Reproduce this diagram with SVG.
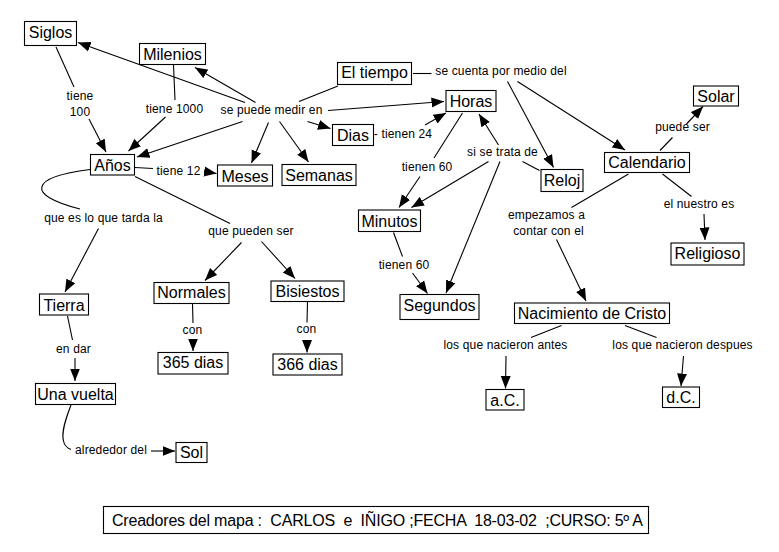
<svg xmlns="http://www.w3.org/2000/svg" width="779" height="552" viewBox="0 0 779 552">
<style>
.box{fill:#fff;stroke:#000;stroke-width:1.1}
.nt{font-family:"Liberation Sans",Arial,sans-serif;font-size:16px;fill:#000;text-anchor:middle}
.lt{font-family:"Liberation Sans",Arial,sans-serif;font-size:12px;letter-spacing:0.15px;fill:#000;text-anchor:middle}
.ft{font-family:"Liberation Sans",Arial,sans-serif;font-size:16px;fill:#000;white-space:pre}
.c{fill:none;stroke:#000;stroke-width:1.1}
.a{fill:none;stroke:#000;stroke-width:1.1;marker-end:url(#ah)}
</style>
<defs>
<marker id="ah" markerUnits="userSpaceOnUse" markerWidth="13" markerHeight="11" viewBox="0 0 13 11" refX="12.5" refY="5.5" orient="auto">
<path d="M0,0.5 L12.5,5.5 L0,10.5 z" fill="#000"/>
</marker>
</defs>
<rect width="779" height="552" fill="#fff"/>

<g id="connectors">
<!-- Siglos / tiene 100 -->
<line class="c" x1="56" y1="47" x2="74" y2="87"/>
<line class="a" x1="89" y1="119" x2="106" y2="152"/>
<!-- Milenios / tiene 1000 -->
<line class="c" x1="173.5" y1="65" x2="175" y2="100"/>
<line class="a" x1="165.5" y1="117" x2="128.5" y2="151"/>
<!-- El tiempo / se puede medir en -->
<line class="c" x1="338" y1="86" x2="299" y2="101.5"/>
<line class="a" x1="245" y1="102.5" x2="78" y2="42.5"/>
<line class="a" x1="255.5" y1="102.5" x2="195" y2="67.5"/>
<line class="a" x1="242.5" y1="121.5" x2="137" y2="157"/>
<line class="a" x1="268.5" y1="122.5" x2="251.5" y2="163"/>
<line class="a" x1="279.5" y1="121.5" x2="308.5" y2="162"/>
<line class="a" x1="307.5" y1="121.5" x2="330.5" y2="128.5"/>
<line class="a" x1="328" y1="110.5" x2="444" y2="101.5"/>
<!-- Años / tiene 12 -->
<line class="c" x1="135" y1="167.5" x2="153" y2="168.5"/>
<line class="a" x1="204" y1="171.5" x2="216.5" y2="173.5"/>
<!-- Años / que es lo que tarda la -->
<path class="c" d="M90,169.5 C30,177 25,195 80,209"/>
<line class="a" x1="98.5" y1="228.5" x2="65" y2="292"/>
<!-- Años / que pueden ser -->
<line class="c" x1="135" y1="176.5" x2="230" y2="223.5"/>
<line class="a" x1="241.5" y1="242.5" x2="205" y2="280.5"/>
<line class="a" x1="261.5" y1="241.5" x2="295" y2="278.5"/>
<!-- Normales / con -->
<line class="c" x1="192.5" y1="304" x2="193" y2="323"/>
<line class="a" x1="193" y1="340" x2="193" y2="351"/>
<!-- Bisiestos / con -->
<line class="c" x1="307.5" y1="302" x2="307" y2="322.5"/>
<line class="a" x1="307" y1="340" x2="307" y2="352.5"/>
<!-- Tierra / en dar -->
<line class="c" x1="67.5" y1="316" x2="72.5" y2="340"/>
<line class="a" x1="75" y1="358" x2="75" y2="381"/>
<!-- Una vuelta / alrededor del -->
<path class="c" d="M71,405 C66,418 61,432 63.5,441 C64.5,446 67,448 71,449.5"/>
<line class="a" x1="151" y1="451" x2="175" y2="451"/>
<!-- El tiempo / se cuenta por medio del -->
<line class="c" x1="413" y1="73.5" x2="431.5" y2="73.5"/>
<line class="a" x1="507.5" y1="81.5" x2="553.5" y2="167.5"/>
<line class="a" x1="517.5" y1="81.5" x2="625" y2="150"/>
<!-- Dias / tienen 24 -->
<line class="a" x1="425" y1="125" x2="446" y2="113"/>
<!-- Horas / tienen 60 -->
<line class="c" x1="462.5" y1="113" x2="434" y2="158"/>
<line class="a" x1="420" y1="176.5" x2="399" y2="207.5"/>
<!-- Reloj / si se trata de -->
<line class="c" x1="539.5" y1="170.5" x2="522.5" y2="161.5"/>
<line class="a" x1="498.5" y1="145" x2="479" y2="114"/>
<line class="a" x1="488.5" y1="161.5" x2="411.5" y2="207.5"/>
<line class="a" x1="500" y1="161.5" x2="446" y2="293"/>
<!-- Minutos / tienen 60 -->
<line class="c" x1="393.5" y1="232.5" x2="402.5" y2="256.5"/>
<line class="a" x1="412.5" y1="273" x2="427.5" y2="293.5"/>
<!-- Calendario / puede ser -->
<line class="c" x1="660" y1="150.5" x2="672.5" y2="137.5"/>
<line class="a" x1="686.5" y1="124" x2="703" y2="106.5"/>
<!-- Calendario / el nuestro es -->
<line class="c" x1="662.5" y1="174" x2="691.5" y2="196.5"/>
<line class="a" x1="704" y1="214" x2="705" y2="240"/>
<!-- Calendario / empezamos a contar con el -->
<line class="c" x1="628.5" y1="174" x2="571.5" y2="207.5"/>
<line class="a" x1="556.5" y1="239.5" x2="586" y2="301"/>
<!-- Nacimiento / antes / despues -->
<line class="c" x1="561.5" y1="325.5" x2="531" y2="337.5"/>
<line class="a" x1="506" y1="356" x2="505.5" y2="388.5"/>
<line class="c" x1="625" y1="325.5" x2="656.5" y2="337.5"/>
<line class="a" x1="683.5" y1="356" x2="681" y2="386"/>
</g>

<g id="link-labels">
<text class="lt" x="80" y="100">tiene</text>
<text class="lt" x="80" y="115.5">100</text>
<text class="lt" x="174.5" y="112.5">tiene 1000</text>
<text class="lt" x="271.5" y="114">se puede medir en</text>
<text class="lt" x="178.5" y="174.5">tiene 12</text>
<text class="lt" x="501" y="75">se cuenta por medio del</text>
<text class="lt" x="403" y="137.5">- tienen 24</text>
<text class="lt" x="682.5" y="131">puede ser</text>
<text class="lt" x="502.5" y="156">si se trata de</text>
<text class="lt" x="427" y="171">tienen 60</text>
<text class="lt" x="546.5" y="218.5">empezamos a</text>
<text class="lt" x="548.5" y="235">contar con el</text>
<text class="lt" x="699" y="208">el nuestro es</text>
<text class="lt" x="404" y="268.5">tienen 60</text>
<text class="lt" x="505.5" y="349">los que nacieron antes</text>
<text class="lt" x="682.5" y="349">los que nacieron despues</text>
<text class="lt" x="103.5" y="221.5">que es lo que tarda la</text>
<text class="lt" x="251" y="235">que pueden ser</text>
<text class="lt" x="192.5" y="333.5">con</text>
<text class="lt" x="306.5" y="333">con</text>
<text class="lt" x="73.5" y="352.5">en dar</text>
<text class="lt" x="111" y="454">alrededor del</text>
</g>

<g id="n-siglos"><rect class="box" x="24.5" y="21.5" width="52" height="24"/><text class="nt" x="50.5" y="38">Siglos</text></g>
<g id="n-milenios"><rect class="box" x="139.5" y="43.5" width="66" height="21"/><text class="nt" x="172.5" y="60">Milenios</text></g>
<g id="n-eltiempo"><rect class="box" x="337.5" y="62.5" width="74" height="22"/><text class="nt" x="374.5" y="77.5">El tiempo</text></g>
<g id="n-horas"><rect class="box" x="446" y="90.5" width="50" height="21"/><text class="nt" x="471" y="107">Horas</text></g>
<g id="n-dias"><rect class="box" x="332.5" y="124.5" width="41" height="21"/><text class="nt" x="353" y="141">Dias</text></g>
<g id="n-solar"><rect class="box" x="693.5" y="86" width="45" height="20"/><text class="nt" x="716" y="101.5">Solar</text></g>
<g id="n-calendario"><rect class="box" x="604.5" y="152.5" width="85" height="20"/><text class="nt" x="647" y="168">Calendario</text></g>
<g id="n-reloj"><rect class="box" x="541" y="169.5" width="42" height="22"/><text class="nt" x="562" y="185.5">Reloj</text></g>
<g id="n-minutos"><rect class="box" x="358.5" y="210" width="62" height="21.5"/><text class="nt" x="389.5" y="226.5">Minutos</text></g>
<g id="n-religioso"><rect class="box" x="671" y="243" width="73" height="22"/><text class="nt" x="707.5" y="258.5">Religioso</text></g>
<g id="n-anos"><rect class="box" x="90.5" y="154.5" width="44" height="20.5"/><text class="nt" x="112.5" y="170.5">Años</text></g>
<g id="n-meses"><rect class="box" x="217.5" y="165" width="55" height="21"/><text class="nt" x="245" y="181.5">Meses</text></g>
<g id="n-semanas"><rect class="box" x="282" y="164.5" width="74" height="21"/><text class="nt" x="319" y="180.5">Semanas</text></g>
<g id="n-segundos"><rect class="box" x="400" y="294.5" width="79" height="25"/><text class="nt" x="439.5" y="311">Segundos</text></g>
<g id="n-nacimiento"><rect class="box" x="514.5" y="303" width="155" height="20.5"/><text class="nt" x="592" y="319">Nacimiento de Cristo</text></g>
<g id="n-ac"><rect class="box" x="486" y="389.5" width="38" height="20.5"/><text class="nt" x="505" y="405.5">a.C.</text></g>
<g id="n-dc"><rect class="box" x="662.5" y="387" width="37" height="20.5"/><text class="nt" x="681" y="403">d.C.</text></g>
<g id="n-tierra"><rect class="box" x="39.5" y="294" width="49" height="21"/><text class="nt" x="64" y="310.5">Tierra</text></g>
<g id="n-normales"><rect class="box" x="154" y="282.5" width="75" height="21"/><text class="nt" x="191.5" y="298">Normales</text></g>
<g id="n-bisiestos"><rect class="box" x="271" y="281" width="73" height="20.5"/><text class="nt" x="307.5" y="296.5">Bisiestos</text></g>
<g id="n-365"><rect class="box" x="158" y="352.5" width="70" height="21.5"/><text class="nt" x="193" y="368">365 dias</text></g>
<g id="n-366"><rect class="box" x="273" y="354" width="69" height="21"/><text class="nt" x="307.5" y="370">366 dias</text></g>
<g id="n-unavuelta"><rect class="box" x="35.5" y="383.5" width="80" height="21"/><text class="nt" x="75.5" y="400">Una vuelta</text></g>
<g id="n-sol"><rect class="box" x="176" y="442.5" width="31" height="20"/><text class="nt" x="191.5" y="457.5">Sol</text></g>
<g id="n-creadores"><rect class="box" x="103.5" y="506.5" width="545" height="27"/><text class="ft" x="112" y="526" textLength="531" lengthAdjust="spacing">Creadores del mapa :  CARLOS  e  IÑIGO ;FECHA  18-03-02  ;CURSO: 5º A</text></g>
</svg>
